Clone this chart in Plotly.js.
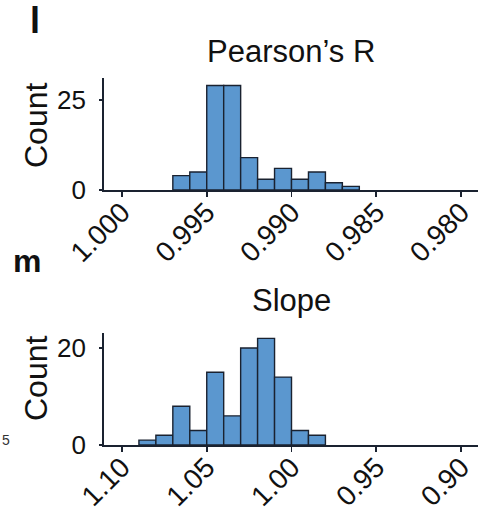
<!DOCTYPE html>
<html>
<head>
<meta charset="utf-8">
<script src="https://cdn.plot.ly/plotly-3.0.1.min.js"></script>
<style>html,body{margin:0;padding:0;background:#fff;}#chart{width:479px;height:511px;}</style>
</head>
<body>
<div id="chart"></div>
<script>
// Pearson's R histogram (bin centers, bin width 0.001)
const pearsonCenters = [0.9965, 0.9955, 0.9945, 0.9935, 0.9925, 0.9915, 0.9905, 0.9895, 0.9885, 0.9875, 0.9865];
const pearsonCounts  = [4, 5, 29, 29, 9, 3, 6, 3, 5, 2, 1];
const pearsonTickVals = [1.000, 0.995, 0.990, 0.985, 0.980];
const pearsonTickText = ["1.000", "0.995", "0.990", "0.985", "0.980"];
const pearsonYTicks = [0, 25];

// Slope histogram (bin centers, bin width 0.01)
const slopeCenters = [1.085, 1.075, 1.065, 1.055, 1.045, 1.035, 1.025, 1.015, 1.005, 0.995, 0.985];
const slopeCounts  = [1, 2, 8, 3, 15, 6, 20, 22, 14, 3, 2];
const slopeTickVals = [1.10, 1.05, 1.00, 0.95, 0.90];
const slopeTickText = ["1.10", "1.05", "1.00", "0.95", "0.90"];
const slopeYTicks = [0, 20];

const W = 479, H = 511;
const FONT = "Liberation Sans, Arial, sans-serif";
const barColor = "#5b97cf";
const lineColor = "#1a2230";

function py(p) { return 1 - p / H; }

const traces = [
  {type: "bar", x: pearsonCenters, y: pearsonCounts, width: 0.001, xaxis: "x", yaxis: "y",
   marker: {color: barColor, line: {color: lineColor, width: 1.4}}, hoverinfo: "skip"},
  {type: "bar", x: slopeCenters, y: slopeCounts, width: 0.01, xaxis: "x2", yaxis: "y2",
   marker: {color: barColor, line: {color: lineColor, width: 1.4}}, hoverinfo: "skip"}
];

const axBase = {showline: true, linecolor: lineColor, linewidth: 1.8, showgrid: false, zeroline: false,
  ticks: "outside", ticklen: 5, tickwidth: 1.8, tickcolor: lineColor,
  tickfont: {family: FONT, size: 28, color: "#111"}};

const layout = {
  width: W, height: H,
  margin: {l: 104, r: 1, t: 0, b: 0},
  paper_bgcolor: "#fff", plot_bgcolor: "#fff",
  showlegend: false, bargap: 0,
  xaxis: Object.assign({}, axBase, {domain: [0, 1], range: [1.00106, 0.979], tickvals: pearsonTickVals,
    ticktext: pearsonTickText, tickangle: -45, ticklabelstandoff: -12, anchor: "y"}),
  yaxis: Object.assign({}, axBase, {domain: [py(190), py(78)], range: [0, 31.1], tickvals: pearsonYTicks,
    ticklen: 3, ticklabelstandoff: 8, anchor: "x", tickfont: {family: FONT, size: 26, color: "#111"}}),
  xaxis2: Object.assign({}, axBase, {domain: [0, 1], range: [1.1106, 0.89], tickvals: slopeTickVals,
    ticktext: slopeTickText, tickangle: -45, ticklabelstandoff: -12, anchor: "y2"}),
  yaxis2: Object.assign({}, axBase, {domain: [py(445), py(333)], range: [0, 23.1], tickvals: slopeYTicks,
    ticklen: 3, ticklabelstandoff: 8, anchor: "x2", tickfont: {family: FONT, size: 26, color: "#111"}}),
  annotations: [
    {text: "Pearson’s R", xref: "paper", yref: "paper", x: 0.5, y: py(51), xanchor: "center", yanchor: "middle",
     showarrow: false, font: {family: FONT, size: 31, color: "#111"}},
    {text: "Slope", xref: "paper", yref: "paper", x: 0.5, y: py(300), xanchor: "center", yanchor: "middle",
     showarrow: false, font: {family: FONT, size: 31, color: "#111"}},
    {text: "Count", xref: "paper", yref: "paper", x: (36 - 104) / 374, y: py(125), xanchor: "center", yanchor: "middle",
     textangle: -90, showarrow: false, font: {family: FONT, size: 32, color: "#111"}},
    {text: "Count", xref: "paper", yref: "paper", x: (36 - 104) / 374, y: py(378), xanchor: "center", yanchor: "middle",
     textangle: -90, showarrow: false, font: {family: FONT, size: 32, color: "#111"}},
    {text: "<b>l</b>", xref: "paper", yref: "paper", x: (35 - 104) / 374, y: py(21), xanchor: "center", yanchor: "middle",
     showarrow: false, font: {family: FONT, size: 36, color: "#111"}},
    {text: "<b>m</b>", xref: "paper", yref: "paper", x: (27 - 104) / 374, y: py(261), xanchor: "center", yanchor: "middle",
     showarrow: false, font: {family: FONT, size: 32, color: "#111"}},
    {text: "5", xref: "paper", yref: "paper", x: (6 - 104) / 374, y: py(440), xanchor: "center", yanchor: "middle",
     showarrow: false, font: {family: FONT, size: 14, color: "#333"}}
  ]
};

Plotly.newPlot("chart", traces, layout, {staticPlot: true, displayModeBar: false});
</script>
</body>
</html>
